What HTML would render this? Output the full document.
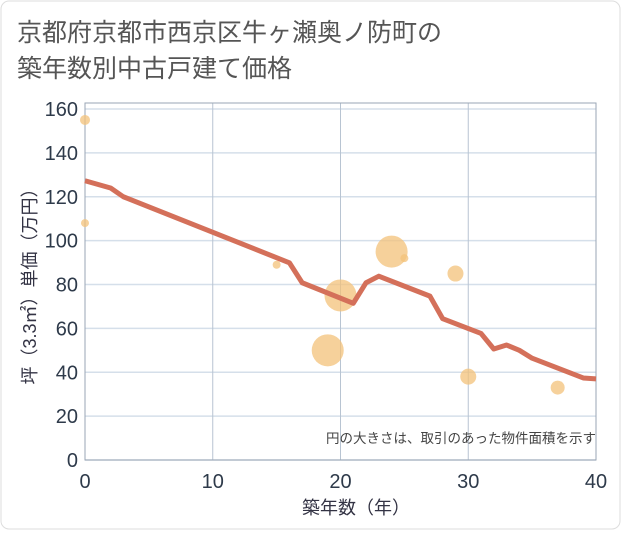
<!DOCTYPE html>
<html><head><meta charset="utf-8"><style>
body{margin:0;background:#fff}
svg text{font-family:"Liberation Sans","Noto Sans CJK JP",sans-serif}
</style></head><body>
<svg width="621" height="530" xmlns="http://www.w3.org/2000/svg">
<rect x="1" y="1" width="619" height="528" rx="8" fill="#fff" stroke="#ddd"/>
<text x="17" y="41" font-size="25" fill="#555">京都府京都市西京区牛ヶ瀬奥ノ防町の</text>
<text x="17" y="77" font-size="25" fill="#555">築年数別中古戸建て価格</text>
<g id="grid"></g>
<g id="bubbles"></g>
<g id="line"></g>
<g id="ticks"></g>
<text x="596" y="443" font-size="13.5" fill="#444" text-anchor="end">円の大きさは、取引のあった物件面積を示す</text>
<text x="356" y="514" font-size="18" fill="#334" text-anchor="middle">築年数（年）</text>
<text transform="translate(36,282) rotate(-90)" font-size="18" fill="#334" text-anchor="middle">坪（3.3㎡）単価（万円）</text>
</svg>
<script>
const xTicks=[0,10,20,30,40];
const yTicks=[0,20,40,60,80,100,120,140,160];
const lineYears=[0,2,3,16,17,21,22,23,27,28,31,32,33,34,35,39,40];
const lineValues=[127.3,124,120,89.9,80.8,71.4,80.8,83.8,74.7,64.4,57.7,50.6,52.4,50,46.4,37.4,37];
const bubbleYears=[0,0,15,19,20,24,25,29,30,37];
const bubbleValues=[155,108,89,50,75,95,92,85,38,33];
const bubbleRadii=[5,4,4,16,16,16,4,8,8,7];
const NS="http://www.w3.org/2000/svg";
const X=v=>85+v*(511/40), Y=v=>460-v*(351/160);
function mk(t,a,p){const e=document.createElementNS(NS,t);for(const k in a)e.setAttribute(k,a[k]);document.getElementById(p).appendChild(e);return e;}
yTicks.forEach(v=>{const l=mk('line',{x1:85,x2:596,y1:Y(v),y2:Y(v),stroke:'#d5dfea','stroke-width':1.5},'grid');


const t=mk('text',{x:78,y:Y(v)+7,'font-size':20,fill:'#2e3a4a','text-anchor':'end'},'ticks');t.textContent=v;

});
xTicks.forEach(v=>{const l=mk('line',{x1:X(v),x2:X(v),y1:103,y2:460,stroke:'#b8c4d2','stroke-width':1},'grid');


const t=mk('text',{x:X(v),y:488,'font-size':20,fill:'#2e3a4a','text-anchor':'middle'},'ticks');t.textContent=v;

});
const fr=mk('rect',{x:85,y:103,width:511,height:357,fill:'none',stroke:'#9aa6b4','stroke-width':1},'grid');


bubbleYears.forEach((yr,i)=>{const c=mk('circle',{cx:X(yr),cy:Y(bubbleValues[i]),r:bubbleRadii[i],fill:'#f3c27a','fill-opacity':0.75},'bubbles');

});
const p=mk('polyline',{points:lineYears.map((yr,i)=>X(yr)+','+Y(lineValues[i])).join(' '),fill:'none',stroke:'#d4705a','stroke-width':5,'stroke-linejoin':'round'},'line');


</script>
</body></html>
